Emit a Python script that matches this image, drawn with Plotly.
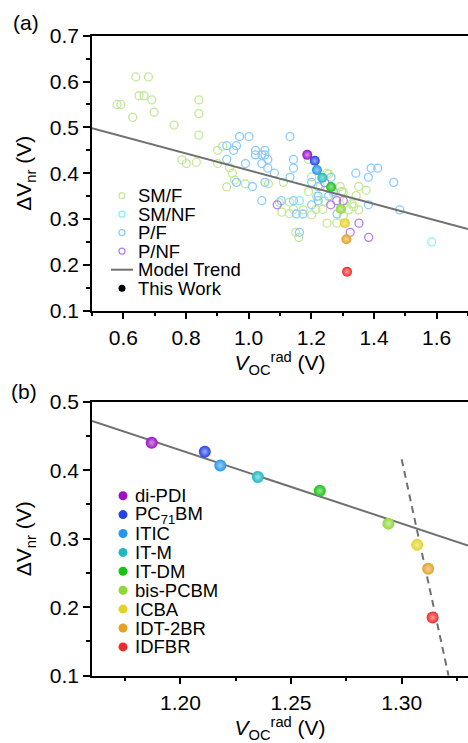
import plotly.graph_objects as go

W, H = 468, 743

# ---- panel (a) literature data ----
sm_f_x = [0.640, 0.680, 0.650, 0.666, 0.691, 0.580, 0.592, 0.630, 0.698, 0.762,
          0.841, 0.841, 0.841, 0.787, 0.801, 0.833, 0.901, 0.917, 0.901, 0.939,
          0.948, 0.955, 0.930, 0.989, 1.063, 1.111, 1.098, 1.106, 1.130, 1.143,
          1.130, 1.150, 1.160, 1.191, 1.191, 1.201, 1.201, 1.215, 1.236, 1.243,
          1.250, 1.250, 1.281, 1.292, 1.302, 1.313, 1.319, 1.330, 1.343, 1.351,
          1.375, 1.351, 1.302, 1.335, 1.228, 1.217, 1.174, 1.270, 1.255, 1.297]
sm_f_y = [0.610, 0.610, 0.569, 0.569, 0.560, 0.550, 0.550, 0.522, 0.533, 0.505,
          0.560, 0.530, 0.483, 0.429, 0.421, 0.424, 0.450, 0.459, 0.421, 0.412,
          0.400, 0.385, 0.370, 0.377, 0.377, 0.380, 0.336, 0.315, 0.312, 0.321,
          0.337, 0.271, 0.260, 0.360, 0.430, 0.392, 0.309, 0.321, 0.321, 0.339,
          0.400, 0.291, 0.291, 0.371, 0.359, 0.341, 0.320, 0.333, 0.351, 0.371,
          0.363, 0.320, 0.307, 0.327, 0.371, 0.349, 0.320, 0.356, 0.398, 0.360]

sm_nf_x = [1.162, 1.584]
sm_nf_y = [0.340, 0.250]

p_f_x = [0.930, 0.930, 0.952, 0.961, 0.971, 1.001, 0.961, 0.990, 1.012, 1.022,
         1.022, 1.042, 1.052, 1.052, 1.061, 1.042, 1.061, 1.082, 1.052, 1.042,
         1.104, 1.132, 1.143, 1.143, 1.132, 1.143, 1.152, 1.162, 1.173, 1.201,
         1.201, 1.222, 1.222, 1.222, 1.263, 1.255, 1.271, 1.282, 1.342, 1.382,
         1.391, 1.412, 1.382, 1.463, 1.482]
p_f_y = [0.460, 0.430, 0.450, 0.460, 0.480, 0.480, 0.380, 0.421, 0.371, 0.450,
         0.440, 0.440, 0.450, 0.440, 0.430, 0.421, 0.411, 0.400, 0.380, 0.340,
         0.340, 0.480, 0.430, 0.411, 0.391, 0.340, 0.311, 0.271, 0.311, 0.380,
         0.331, 0.371, 0.350, 0.340, 0.391, 0.350, 0.360, 0.311, 0.400, 0.391,
         0.411, 0.411, 0.331, 0.380, 0.320]

p_nf_x = [1.091, 1.262, 1.281, 1.302, 1.324, 1.352, 1.383, 1.243]
p_nf_y = [0.331, 0.331, 0.340, 0.340, 0.271, 0.291, 0.260, 0.379]

trend_a_x = [0.5, 1.7]
trend_a_y = [0.498, 0.278]

# ---- this work ----
acceptors = ["di-PDI", "PC<sub>71</sub>BM", "ITIC", "IT-M", "IT-DM",
             "bis-PCBM", "ICBA", "IDT-2BR", "IDFBR"]
voc_rad = [1.187, 1.211, 1.218, 1.235, 1.263, 1.294, 1.307, 1.312, 1.314]
dv_nr = [0.440, 0.427, 0.407, 0.390, 0.370, 0.322, 0.291, 0.256, 0.185]
acc_colors = ["#9a12c4", "#2244e6", "#2196f3", "#1fb8c2", "#16c416",
              "#8fd836", "#e2d424", "#e3a226", "#f02a2a"]

trend_b_x = [1.16, 1.33]
trend_b_y = [0.472, 0.290]
dash_b_x = [1.300, 1.3212]
dash_b_y = [0.416, 0.100]

lit_names = ["SM/F", "SM/NF", "P/F", "P/NF"]
lit_colors = ["#c3e898", "#7ff2ff", "#8acbff", "#b67bf2"]


def lighten(hexc, f):
    r, g, b = int(hexc[1:3], 16), int(hexc[3:5], 16), int(hexc[5:7], 16)
    r, g, b = [int(c + (255 - c) * f) for c in (r, g, b)]
    return "#%02x%02x%02x" % (r, g, b)


def px(p):
    return p / W


def py(p):
    return 1 - p / H


fig = go.Figure()

lit = [(sm_f_x, sm_f_y), (sm_nf_x, sm_nf_y), (p_f_x, p_f_y), (p_nf_x, p_nf_y)]
for (xs, ys), name, col in zip(lit, lit_names, lit_colors):
    fig.add_trace(go.Scatter(x=xs, y=ys, mode="markers", name=name,
                             marker=dict(symbol="circle-open", size=8, color=col,
                                         line=dict(width=1.3, color=col)),
                             xaxis="x", yaxis="y"))

fig.add_trace(go.Scatter(x=trend_a_x, y=trend_a_y, mode="lines", name="Model Trend",
                         line=dict(color="#707070", width=2), xaxis="x", yaxis="y"))

light = [lighten(c, 0.55) for c in acc_colors]
fig.add_trace(go.Scatter(x=voc_rad, y=dv_nr, mode="markers", name="This Work",
                         marker=dict(size=10, color=acc_colors, line=dict(width=0),
                                     gradient=dict(type="radial", color=light)),
                         xaxis="x", yaxis="y"))

fig.add_trace(go.Scatter(x=trend_b_x, y=trend_b_y, mode="lines",
                         line=dict(color="#707070", width=2), xaxis="x2", yaxis="y2"))
fig.add_trace(go.Scatter(x=dash_b_x, y=dash_b_y, mode="lines",
                         line=dict(color="#707070", width=2, dash="7px,5px"),
                         xaxis="x2", yaxis="y2"))
fig.add_trace(go.Scatter(x=voc_rad, y=dv_nr, mode="markers",
                         marker=dict(size=12, color=acc_colors, line=dict(width=0),
                                     gradient=dict(type="radial", color=light)),
                         xaxis="x2", yaxis="y2"))

FS = 21
axis_style = dict(showline=True, linecolor="black", linewidth=1.5, ticks="outside",
                  ticklen=7, tickwidth=1.5, tickcolor="black",
                  tickfont=dict(size=FS, color="black"), showgrid=False, zeroline=False,
                  minor=dict(ticks="outside", ticklen=4, tickwidth=1.5, tickcolor="black"),
                  automargin=False)

xtitle = "<i>V</i><sub>OC</sub><sup>rad</sup> (V)"
ytitle = "\u0394V<sub>nr</sub> (V)"

fig.update_layout(
    width=W, height=H, margin=dict(l=0, r=0, t=0, b=0),
    paper_bgcolor="white", plot_bgcolor="white", showlegend=False,
    font=dict(family="Liberation Sans, Arial, sans-serif", color="black", size=FS),
    xaxis=dict(axis_style, domain=[px(92), 1], range=[0.5, 1.7], tick0=0.6, dtick=0.2,
               tickformat=".1f", mirror=True, anchor="y",
               minor=dict(axis_style["minor"], dtick=0.1),
               title=dict(text=xtitle, font=dict(size=FS), standoff=8)),
    yaxis=dict(axis_style, domain=[py(310.7), py(35.7)], range=[0.1, 0.7], dtick=0.1,
               tickformat=".1f", anchor="x",
               minor=dict(axis_style["minor"], dtick=0.05),
               title=dict(text=ytitle, font=dict(size=FS), standoff=12)),
    xaxis2=dict(axis_style, domain=[px(92), 1], range=[1.16, 1.33], tick0=1.2, dtick=0.05,
                tickformat=".2f", mirror=True, anchor="y2",
                minor=dict(axis_style["minor"], dtick=0.025),
                title=dict(text=xtitle, font=dict(size=FS), standoff=8)),
    yaxis2=dict(axis_style, domain=[py(675.7), py(401.7)], range=[0.1, 0.5], dtick=0.1,
                tickformat=".1f", anchor="x2",
                minor=dict(axis_style["minor"], dtick=0.05),
                title=dict(text=ytitle, font=dict(size=FS), standoff=12)),
)

annotations = [
    dict(text="(a)", x=px(11), y=py(22), xanchor="left", yanchor="middle"),
    dict(text="(b)", x=px(9), y=py(391), xanchor="left", yanchor="middle"),
]
shapes = []

# legend of panel (a)
LFS = 18.5
row0, step = 195.7, 18.5
legend_a = lit_names + ["Model Trend", "This Work"]
for i, name in enumerate(legend_a):
    yc = row0 + i * step
    annotations.append(dict(text=name, x=px(136), y=py(yc), xanchor="left",
                            yanchor="middle", font=dict(size=LFS)))
    if i < 4:
        shapes.append(dict(type="circle", xref="paper", yref="paper",
                           xsizemode="pixel", ysizemode="pixel",
                           xanchor=px(122), yanchor=py(yc), x0=-3, x1=3, y0=-3, y1=3,
                           line=dict(color=lit_colors[i], width=1.2)))
    elif name == "Model Trend":
        shapes.append(dict(type="line", xref="paper", yref="paper",
                           x0=px(111), x1=px(133), y0=py(yc), y1=py(yc),
                           line=dict(color="#707070", width=2)))
    else:
        shapes.append(dict(type="circle", xref="paper", yref="paper",
                           xsizemode="pixel", ysizemode="pixel",
                           xanchor=px(122), yanchor=py(yc), x0=-3.5, x1=3.5, y0=-3.5, y1=3.5,
                           fillcolor="black", line=dict(color="black", width=0)))

# legend of panel (b)
row0, step = 495.7, 18.9
for i, (name, col) in enumerate(zip(acceptors, acc_colors)):
    yc = row0 + i * step
    annotations.append(dict(text=name, x=px(133), y=py(yc), xanchor="left",
                            yanchor="middle", font=dict(size=LFS)))
    shapes.append(dict(type="circle", xref="paper", yref="paper",
                       xsizemode="pixel", ysizemode="pixel",
                       xanchor=px(123), yanchor=py(yc), x0=-4.5, x1=4.5, y0=-4.5, y1=4.5,
                       fillcolor=col, line=dict(color=col, width=0)))

for a in annotations:
    a.update(xref="paper", yref="paper", showarrow=False)
fig.update_layout(annotations=annotations, shapes=shapes)

fig.write_html("out.html", config={"displayModeBar": False},
               post_script="document.body.style.margin='0px';")
